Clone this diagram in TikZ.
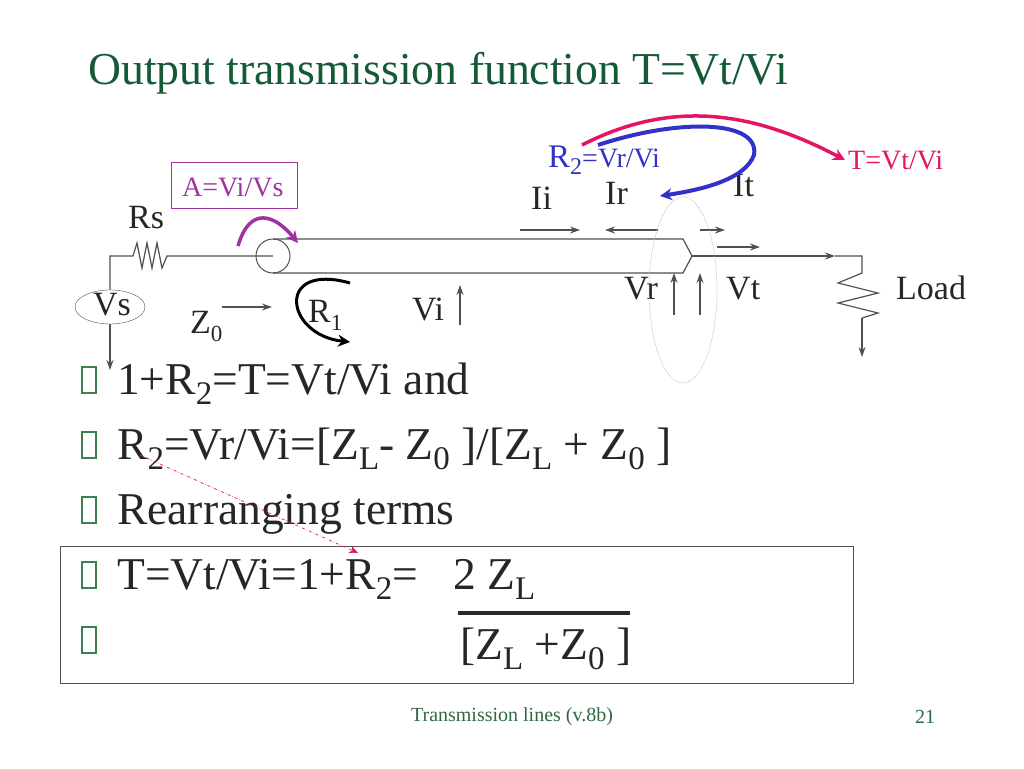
\documentclass[tikz,border=0pt]{standalone}
\usepackage{fontspec}
\setmainfont{Liberation Serif}
\usetikzlibrary{arrows.meta,shapes.geometric}
\definecolor{ttl}{RGB}{20,90,55}
\definecolor{mag}{RGB}{160,50,160}
\definecolor{blu}{RGB}{50,50,200}
\definecolor{rd}{RGB}{230,20,100}
\definecolor{gr}{RGB}{80,80,80}
\definecolor{bul}{RGB}{60,130,80}
\newcommand{\bsub}[1]{\raisebox{-10pt}{\fontsize{33}{33}\selectfont #1}}
\newcommand{\ssub}[1]{\raisebox{-8pt}{\fontsize{23}{23}\selectfont #1}}
\begin{document}
\begin{tikzpicture}[x=1pt,y=-1pt,
  t/.style={anchor=base west,inner sep=0,text=black},
  big/.style={t,font=\fontsize{45.5}{47}\selectfont,text=black!85},
  sm/.style={t,font=\fontsize{34}{35}\selectfont,text=black!85},
  wire/.style={draw=gr,line width=1.2},
  arr/.style={wire,-{Stealth[length=10,width=7]}},
  bx/.style={draw=bul,line width=2}]
\useasboundingbox (0,0) rectangle (1024,768);
\node[t,font=\fontsize{45.7}{47}\selectfont,text=ttl] (title) at (88,84) {Output transmission function T=Vt/Vi};
% A box
\node[draw=mag,line width=0.8,inner sep=0,minimum width=126,minimum height=46,anchor=north west] (abox) at (171,162) {};
\node[t,font=\fontsize{28}{29}\selectfont,text=mag] (atext) at (182,196) {A=Vi/Vs};
% source side
\node[draw=gr,ellipse,minimum width=70,minimum height=34,inner sep=0] (vs) at (110,307) {};
\node[sm] (vst) at (93,315) {Vs};
\node[sm] (rs) at (128,228) {Rs};
\coordinate (c1) at (110,256);
\draw[wire] (vs.north) -- (c1) -- (133,256) -- (137,243) -- (142,268) -- (147,243) -- (152,268) -- (157,243) -- (162,268) -- (167,256) -- (273,256);
\draw[arr] (vs.south) -- (110,370);
\node[draw=gr,circle,minimum size=34,inner sep=0,line width=1] (cir) at (273,256) {};
\draw[wire] (273,239) -- (683,239) -- (692,256) -- (683,273) -- (273,273);
\draw[arr] (692,256) -- (835,256);
\draw[wire] (835,256) -- (862,256) -- (862,273) -- (838,283) -- (878,293) -- (838,303) -- (878,313) -- (862,318);
\draw[arr] (862,318) -- (862,357);
\node[sm] (load) at (896,299) {Load};
% labels
\node[sm] (z0) at (190,333) {Z\ssub{0}};
\draw[arr] (222,307) -- (272,307);
\node[sm] (r1) at (308,322) {R\ssub{1}};
\draw[line width=3,-{Stealth[length=12,width=12]}] (350,283) .. controls (275,262) and (285,335) .. (350,342);
\node[sm] (vi) at (412,320) {Vi};
\draw[arr] (460,325) -- (460,285);
\draw[mag,line width=3.5,-{Stealth[length=12,width=12]}] (238,246) .. controls (250,205) and (275,215) .. (298,243);
\node[sm] (ii) at (531,209) {Ii};
\draw[arr] (520,230) -- (580,230);
\node[sm] (ir) at (605,204) {Ir};
\draw[arr] (658,230) -- (605,230);
\node[sm] (it) at (733,196) {It};
\draw[arr] (700,230) -- (725,230);
\draw[arr] (717,247) -- (760,247);
\node[sm] (vr) at (624,299) {Vr};
\draw[arr] (674,315) -- (674,273);
\draw[arr] (700,315) -- (700,273);
\node[sm] (vt) at (726,299) {Vt};
\draw[gray!50,densely dotted,line width=0.8] (683,290) ellipse [x radius=34,y radius=93];
% R2 and arrows
\node[t,text=blu,font=\fontsize{33}{34}\selectfont] (r2) at (548,167) {R\raisebox{-7pt}{\fontsize{24}{24}\selectfont 2}\fontsize{28}{29}\selectfont=Vr/Vi};
\draw[blu,line width=4,-{Stealth[length=12,width=12]}] (598,145) .. controls (680,118) and (760,120) .. (754,155) .. controls (745,180) and (700,190) .. (660,196);
\draw[rd,line width=3.5,-{Stealth[length=12,width=12]}] (582,145) .. controls (670,100) and (750,110) .. (845,160);
\node[t,text=rd,font=\fontsize{28}{29}\selectfont] (tvt) at (848,169) {T=Vt/Vi};
% bullets
\foreach \y/\n in {367/b1,432/b2,497/b3,562/b4,627/b5}
  \draw[bx] (82,\y) rectangle (96,\y+26);
\node[big] (l1) at (117,394) {1+R\bsub{2}=T=Vt/Vi and};
\node[big] (l2) at (117,459) {R\bsub{2}=Vr/Vi=[Z\bsub{L}- Z\bsub{0} ]/[Z\bsub{L} + Z\bsub{0} ]};
\node[big] (l3) at (117,524) {Rearranging terms};
\node[big] (l4) at (117,589) {T=Vt/Vi=1+R\bsub{2}=};
\node[big] (l4b) at (453,589) {2 Z\bsub{L}};
\node[big] (l5) at (460,659) {[Z\bsub{L} +Z\bsub{0} ]};
\draw[line width=4,gr!50!black] (458,613) -- (630,613);
\draw[gr,line width=1] (60,546) rectangle (853,683);
\draw[rd,dash dot,line width=0.7,-{Stealth[length=9,width=8]}] (140,455) -- (358,553);
% footer
\node[font=\fontsize{20}{21}\selectfont,text=bul!80!black,inner sep=0] (foot) at (512,717) {Transmission lines (v.8b)};
\node[font=\fontsize{20}{21}\selectfont,text=bul!80!black,inner sep=0] (pg) at (925,717) {21};
\end{tikzpicture}
\end{document}
